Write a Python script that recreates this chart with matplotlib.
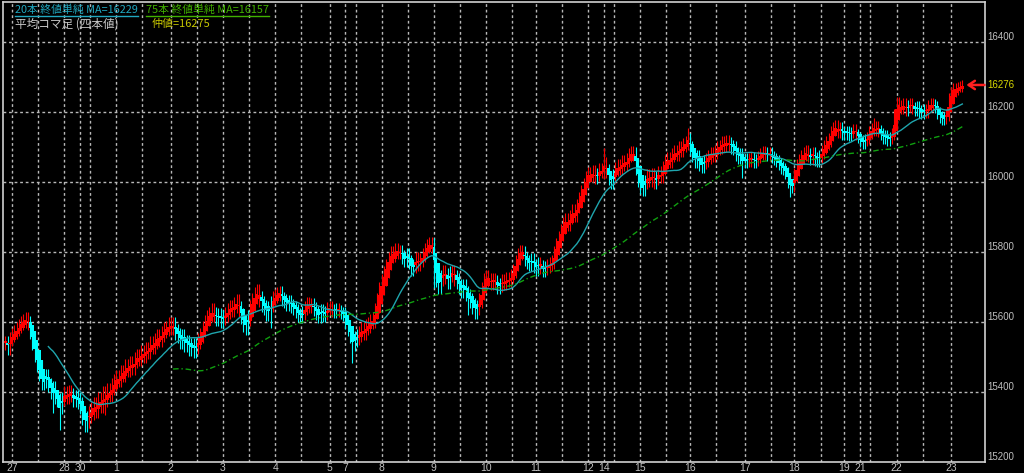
import matplotlib
matplotlib.use('Agg')
import matplotlib.pyplot as plt
import numpy as np
import pandas as pd
from matplotlib.transforms import blended_transform_factory
from matplotlib.lines import Line2D

# hourly closes
close = [
    15540, 15525, 15550, 15562, 15570, 15578, 15588, 15596, 15602, 15608,
    15595, 15570, 15540, 15505, 15475, 15450, 15425,
    15430, 15445, 15420, 15400, 15410, 15385, 15375,
    15355,
    15380, 15395, 15385, 15400, 15390, 15375, 15385, 15370, 15360,
    15330, 15310, 15320,
    15335, 15345, 15360, 15350, 15375, 15365, 15390, 15380, 15400, 15395, 15415,
    15425, 15440, 15435, 15455, 15450, 15470, 15465, 15480, 15470, 15490,
    15500, 15495, 15510, 15505, 15520, 15515, 15535, 15530, 15545, 15555,
    15550, 15565, 15575, 15580,
    15592, 15585, 15590,
    15570, 15560, 15545, 15555, 15535, 15540, 15525, 15530, 15520, 15530,
    15545, 15560, 15580, 15595, 15610, 15620, 15632,
    15620, 15610, 15615, 15605, 15612, 15620,
    15630, 15640, 15635, 15648, 15655,
    15635, 15615, 15595, 15585,
    15610, 15640, 15660, 15675, 15685,
    15665, 15650, 15640, 15625, 15635,
    15650, 15665, 15672, 15680, 15683,
    15665, 15660, 15650, 15655, 15645, 15640,
    15630, 15620, 15615, 15625,
    15640, 15650, 15645, 15648,
    15635, 15625, 15615, 15630, 15620, 15625, 15635,
    15640, 15632, 15628, 15635, 15630, 15625, 15620,
    15600, 15580, 15560, 15540, 15550, 15556,
    15565, 15575, 15570, 15585, 15590, 15600, 15605,
    15630, 15660, 15690, 15715, 15740, 15760, 15780, 15795,
    15790, 15805, 15798, 15800,
    15785, 15775, 15790, 15770, 15750, 15760, 15780, 15765, 15775, 15790,
    15805, 15815, 15822, 15815,
    15760, 15720, 15700,
    15725, 15740, 15730, 15715, 15735, 15740, 15725, 15715,
    15700, 15690, 15700, 15680, 15670, 15660,
    15645, 15630, 15640, 15660,
    15690, 15715, 15728, 15720, 15710, 15718,
    15712, 15700, 15705, 15715,
    15710, 15722, 15718, 15730, 15745,
    15770, 15790, 15800, 15795,
    15780, 15770, 15765, 15775, 15760, 15750, 15765, 15755, 15748, 15752, 15760,
    15765, 15770,
    15795, 15820, 15840, 15860, 15880, 15890,
    15880, 15900, 15915, 15905, 15930, 15950, 15970, 15990, 16010,
    16025, 16015, 16030, 16010, 16020, 16035, 16028,
    16050, 16030, 16010, 16000, 16015,
    16035, 16045, 16040, 16055, 16050, 16062,
    16075, 16081, 16078,
    16040, 16005, 15985, 15980,
    16000, 16015, 16005, 16020, 16000, 16010, 16025, 16015,
    16040, 16055, 16065, 16060, 16075, 16085, 16080, 16095, 16090, 16105,
    16110, 16120, 16095,
    16075, 16060, 16070, 16050, 16045, 16055, 16062,
    16070, 16080, 16075, 16085, 16095, 16100,
    16110, 16105, 16113, 16108, 16100, 16095,
    16080, 16070, 16075, 16060, 16055, 16065,
    16060, 16068, 16055, 16062, 16070, 16078,
    16085, 16080, 16075, 16082, 16070, 16065,
    16058, 16050, 16040, 16035, 16025,
    16000, 15985, 15990,
    16020, 16045, 16060, 16070, 16080, 16084,
    16075, 16068, 16080, 16065, 16062, 16070,
    16085, 16100, 16110, 16120,
    16140, 16150, 16155, 16145, 16150,
    16140, 16135, 16145, 16130, 16140, 16150, 16135,
    16125, 16115, 16110, 16118, 16125,
    16140, 16150, 16148, 16155,
    16145, 16135, 16125, 16130, 16120, 16125, 16135,
    16190, 16225, 16215,
    16210, 16220, 16205, 16215, 16222, 16210, 16205, 16212,
    16200, 16195, 16205, 16198,
    16215, 16222, 16218, 16212,
    16195, 16185, 16178, 16182, 16190,
    16235, 16255, 16268,
    16262, 16270, 16272, 16276,
]

# long wicks
spike_high = {72: 15600, 187: 15838, 264: 16096, 301: 16153, 383: 16181, 393: 16240}
spike_low = {1: 15510, 21: 15340, 24: 15290, 35: 15295, 44: 15333, 105: 15570,
             117: 15582, 153: 15482, 189: 15696, 204: 15619, 266: 15990,
             280: 15965, 325: 16010, 346: 15955}

day_labels = ['27', '28', '30', '1', '2', '3', '4', '5', '7', '8', '9', '10',
              '11', '12', '14', '15', '16', '17', '18', '19', '21', '22', '23']
day_start = [3, 26, 33, 49, 73, 96, 119, 143, 150, 166, 189, 212,
             234, 257, 264, 280, 302, 326, 348, 370, 377, 393, 417]
# typical hourly high-low spread beyond the open/close, per day
day_range = [40, 40, 50, 45, 45, 45, 40, 35, 45, 40, 45, 40,
             40, 35, 40, 40, 40, 35, 40, 30, 35, 35, 30]

y_ticks = [15200, 15400, 15600, 15800, 16000, 16200, 16400]

head1 = '20本 終値単純 MA=16229'
head2 = '75本 終値単純 MA=16157'
head3 = '平均コマ足 (四本値)'
head4 = '仲値=16275'

# heikin ashi
c = np.array(close, dtype=float)
n = len(c)
o = np.r_[c[0], c[:-1]]
rng = np.zeros(n)
ends = day_start[1:] + [n]
rng[:day_start[0]] = day_range[0]
for s, e, r in zip(day_start, ends, day_range):
    rng[s:e] = r
h = np.maximum(o, c) + rng / 2
l = np.minimum(o, c) - rng / 2
for k, v in spike_high.items():
    h[k] = max(h[k], v)
for k, v in spike_low.items():
    l[k] = min(l[k], v)
ha_c = (o + h + l + c) / 4
ha_o = np.zeros(n)
ha_o[0] = (o[0] + c[0]) / 2
for i in range(1, n):
    ha_o[i] = (ha_o[i-1] + ha_c[i-1]) / 2
ha_h = np.maximum.reduce([h, ha_o, ha_c])
ha_l = np.minimum.reduce([l, ha_o, ha_c])

ma20 = pd.Series(c).rolling(20).mean()
ma75 = pd.Series(c).rolling(75).mean()

fig = plt.figure(figsize=(10.24, 4.73), dpi=100, facecolor='black')
ax = fig.add_axes([3/1024, 11/473, 982/1024, 460/473])
ax.set_facecolor('black')
ax.set_xlim(-1, 432)
ax.set_ylim(15199, 16513)

gridc = '#b8b8b8'
for v in y_ticks[1:]:
    ax.axhline(v, color=gridc, lw=1, dashes=(2, 2), zorder=1)
for s, e in zip(day_start, ends):
    ax.axvline(s, color=gridc, lw=1, dashes=(2, 2), zorder=1)
    if e - s >= 20:
        ax.axvline(s + 11.5, color=gridc, lw=1, dashes=(2, 2), zorder=1)
    elif 14 <= e - s <= 18:
        ax.axvline(s + 4.5, color=gridc, lw=1, dashes=(2, 2), zorder=1)

x = np.arange(n)
up = ha_c >= ha_o
cols = np.where(up, '#ff0000', '#00ffff')
ax.vlines(x, ha_l, ha_h, colors=cols, lw=0.8, zorder=2)
body_lo = np.minimum(ha_o, ha_c)
body_h = np.maximum(np.abs(ha_c - ha_o), 4)
ax.bar(x, body_h, bottom=body_lo, width=1.15, color=cols, zorder=3)

ax.plot(x, ma20, color='#1fa5ad', lw=1, zorder=4)
ax.plot(x, ma75, color='#10a010', lw=1, dashes=(4, 2, 1, 2), zorder=4)

for sp in ax.spines.values():
    sp.set_color('#d0d0d0')
    sp.set_linewidth(1.2)
ax.set_xticks([])
ax.set_yticks([])

numfont = ['Liberation Sans', 'DejaVu Sans']
tr = blended_transform_factory(ax.transAxes, ax.transData)
for v in y_ticks:
    ax.annotate(str(v), xy=(1, v), xycoords=tr, xytext=(2, 3), textcoords='offset points',
                ha='left', va='center', color='#c0c0c0', fontsize=7, family=numfont,
                annotation_clip=False)

trx = blended_transform_factory(ax.transData, ax.transAxes)
for s, lab in zip(day_start, day_labels):
    ax.annotate(lab, xy=(s, 0), xycoords=trx, xytext=(0, -4), textcoords='offset points',
                ha='center', va='center', color='#c0c0c0', fontsize=7.5, family=numfont,
                annotation_clip=False)

last = close[-1]
ax.annotate('', xy=(n + 0.8, last), xytext=(n + 8.8, last),
            arrowprops=dict(arrowstyle='->,head_length=0.45,head_width=0.3', color='#ff2020',
                            lw=1.8, mutation_scale=10, shrinkA=0, shrinkB=0),
            annotation_clip=False, zorder=6)
ax.annotate(str(last), xy=(1, last), xycoords=tr, xytext=(2, 0), textcoords='offset points',
            ha='left', va='center', color='#d8d800', fontsize=7, family=numfont,
            bbox=dict(boxstyle='square,pad=0.1', fc='black', ec='none'),
            annotation_clip=False, zorder=7)

jp = ['Noto Sans CJK JP', 'DejaVu Sans']
t1 = fig.text(15/1024, 1 - 10/473, head1, color='#20a8c0', fontsize=7.8, family=jp, va='center')
t2 = fig.text(146/1024, 1 - 10/473, head2, color='#40b000', fontsize=7.8, family=jp, va='center')
fig.text(15/1024, 1 - 24/473, head3, color='#c8c8c8', fontsize=8.4, family=jp, va='center')
fig.text(152/1024, 1 - 24/473, head4, color='#c8c800', fontsize=7.9, family=jp, va='center')

fig.canvas.draw()
r = fig.canvas.get_renderer()
inv = fig.transFigure.inverted()
for t in (t1, t2):
    bb = t.get_window_extent(r)
    (x0, y0), (x1, _) = inv.transform([(bb.x0, bb.y0 - 1), (bb.x1, bb.y0)])
    fig.add_artist(Line2D([x0, x1], [y0, y0], color=t.get_color(), lw=1))

fig.savefig('out.png', dpi=100, facecolor='black')
